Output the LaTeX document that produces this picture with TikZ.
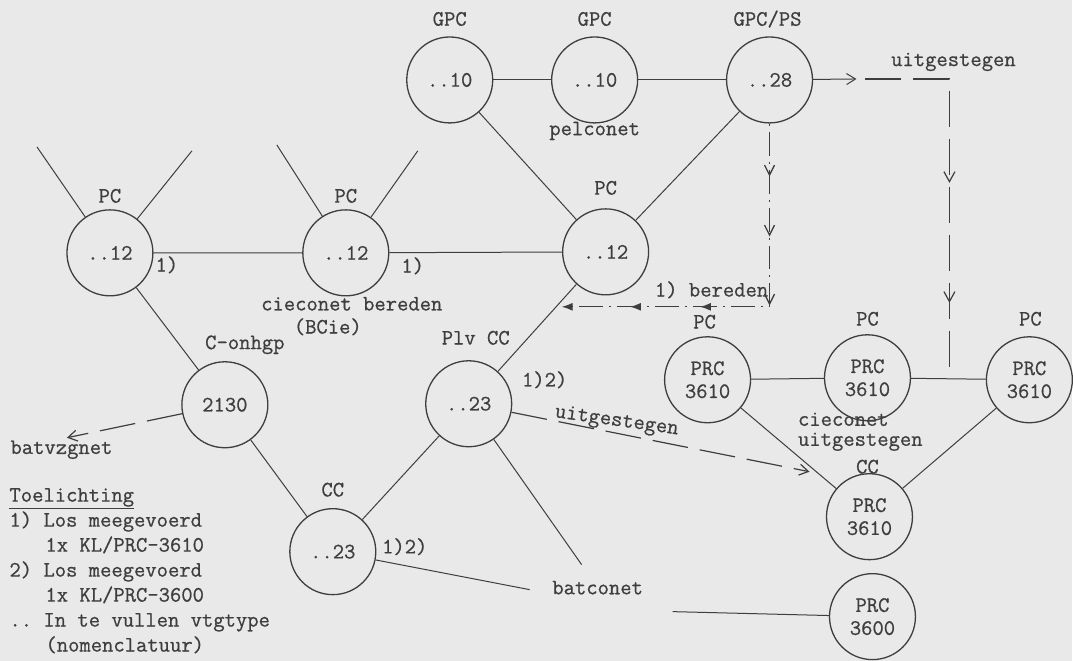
\documentclass[tikz,border=0pt]{standalone}
\usepackage{fontspec}
\newfontfamily\typew{Latin Modern Mono}[FakeBold=0.7]
\usetikzlibrary{positioning,arrows.meta,decorations.markings}
\definecolor{paper}{RGB}{233,233,233}
\definecolor{ink}{RGB}{62,62,62}
\frenchspacing

\begin{document}
\begin{tikzpicture}[x=1pt,y=-1pt,font=\typew\fontsize{22}{23}\selectfont,color=ink,
  >={Straight Barb[length=9pt,width=11pt]},line width=1pt]
\tikzstyle{post}=[circle,draw,line width=1.3pt,minimum size=86pt,inner sep=0pt,
  align=center]
\tikzstyle{tag}=[inner sep=1pt]
\tikzstyle{dd}=[line width=1.3pt,dash pattern=on 2pt off 6pt on 24pt off 6pt,
  postaction=decorate]
\tikzstyle{dsh}=[line width=1.2pt,dash pattern=on 36pt off 12pt,postaction=decorate]

\fill[paper] (0,0) rectangle (1073,661);

% stations
\node[post] (g1) at (450,80) {..10};
\node[post] (g2) at (595,80) {..10};
\node[post] (g3) at (770,80) {..28};
\node[post] (p1) at (110,253) {..12};
\node[post] (p2) at (346,253) {..12};
\node[post] (p3) at (606,252) {..12};
\node[post] (co) at (225,405) {2130};
\node[post] (pl) at (469,404) {..23};
\node[post] (cc) at (333,552) {..23};
\node[post] (r1) at (708,380) {PRC\\3610};
\node[post] (r2) at (868,378) {PRC\\3610};
\node[post] (r3) at (1030,380) {PRC\\3610};
\node[post] (rc) at (870,517) {PRC\\3610};
\node[post] (pr) at (873,617) {PRC\\3600};

% functies
\node[tag] (g1t) at (450,19) {GPC};
\node[tag] (g2t) at (595,19) {GPC};
\node[tag] (g3t) at (768,19) {GPC/PS};
\node[tag] (p1t) at (110,196) {PC};
\node[tag] (p2t) at (346,196) {PC};
\node[tag] (p3t) at (606,188) {PC};
\node[tag] (cot) at (245,345) {C-onhgp};
\node[tag] (plt) at (476,338) {Plv CC};
\node[tag] (cct) at (333,490) {CC};
\node[tag] (r1t) at (705,322) {PC};
\node[tag] (r2t) at (868,319) {PC};
\node[tag] (r3t) at (1031,319) {PC};
\node[tag] (rct) at (868,467) {CC};

% netten
\node[tag] (pel) at (595,131) {pelconet};
\node[tag] (bcie) at (352,304) {cieconet bereden};
\node[tag] (bcie2) at (328,327) {(BCie)};
\node[tag,align=left,anchor=west,font=\typew\fontsize{22}{20}\selectfont] (uit)
  at (797,432) {cieconet\\uitgestegen};
\node[tag] (bat) at (598,588) {batconet};
\node[tag,anchor=west] (bvz) at (9,450) {batvzgnet};
\node[tag] (uit1) at (954,62) {uitgestegen};
\node[tag,rotate=-8] (uit2) at (617,422) {uitgestegen};
\node[tag] (ber) at (712,290) {1) bereden};
\node[tag] (n1) at (167,265) {1)};
\node[tag] (n2) at (413,266) {1)};
\node[tag] (n3) at (545,380) {1)2)};
\node[tag] (n4) at (405,547) {1)2)};

% verbindingen
\coordinate (p1a) at (37,147);
\coordinate (p1b) at (192,151);
\coordinate (p2a) at (277,145);
\coordinate (p2b) at (418,151);
\coordinate (bc1) at (530,590);
\coordinate (bc2) at (582,565);
\coordinate (pra) at (673,612);
\draw (g1) -- (g2) -- (g3);
\draw (g1) -- (p3) -- (g3);
\draw (p1) -- (p2) -- (p3);
\draw (p1a) -- (p1) -- (p1b);
\draw (p2a) -- (p2) -- (p2b);
\draw (p1) -- (co) -- (cc) -- (pl) -- (p3);
\draw (cc) -- (bc1);
\draw (pl) -- (bc2);
\draw (r1) -- (r2) -- (r3);
\draw (r1) -- (rc) -- (r3);
\draw (pra) -- (pr);

% overgangen
\coordinate (ua) at (857,79);
\coordinate (ub) at (866,79);
\coordinate (uc) at (950,79);
\coordinate (rj) at (950,379);
\coordinate (bk) at (770,307);
\coordinate (bl) at (562,307);
\coordinate (uend) at (810,472);
\coordinate (bvzend) at (67,438);
\draw[->] (g3) -- (ua);
\draw[dsh,decoration={markings,
  mark=at position 188pt with {\arrow{Straight Barb[length=10pt,width=11pt]}},
  mark=at position 308pt with {\arrow{Straight Barb[length=10pt,width=11pt]}}}]
  (ub) -- (uc) -- (rj);
\draw[dd,-{Latex[length=11pt,width=8pt]},decoration={markings,
  mark=at position 53pt with {\arrow{Straight Barb[length=10pt,width=10pt]}},
  mark=at position 113pt with {\arrow{Straight Barb[length=10pt,width=10pt]}},
  mark=at position 182pt with {\arrow{Straight Barb[length=10pt,width=10pt]}},
  mark=at position 253pt with {\arrow{Latex[length=11pt,width=8pt]}},
  mark=at position 323pt with {\arrow{Latex[length=11pt,width=8pt]}}}]
  (g3.south) -- (bk) -- (bl);
\draw[dsh,->] (pl) -- (uend);
\draw[dsh,->] (co) -- (bvzend);

% toelichting
\node[tag,anchor=north west,align=left,font=\typew\fontsize{22}{25}\selectfont] (leg)
  at (8,487) {\underline{Toelichting}\\
  1) Los meegevoerd\\\hspace*{36pt}1x KL/PRC-3610\\
  2) Los meegevoerd\\\hspace*{36pt}1x KL/PRC-3600\\
  .. In te vullen vtgtype\\\hspace*{36pt}(nomenclatuur)};
\end{tikzpicture}
\end{document}
